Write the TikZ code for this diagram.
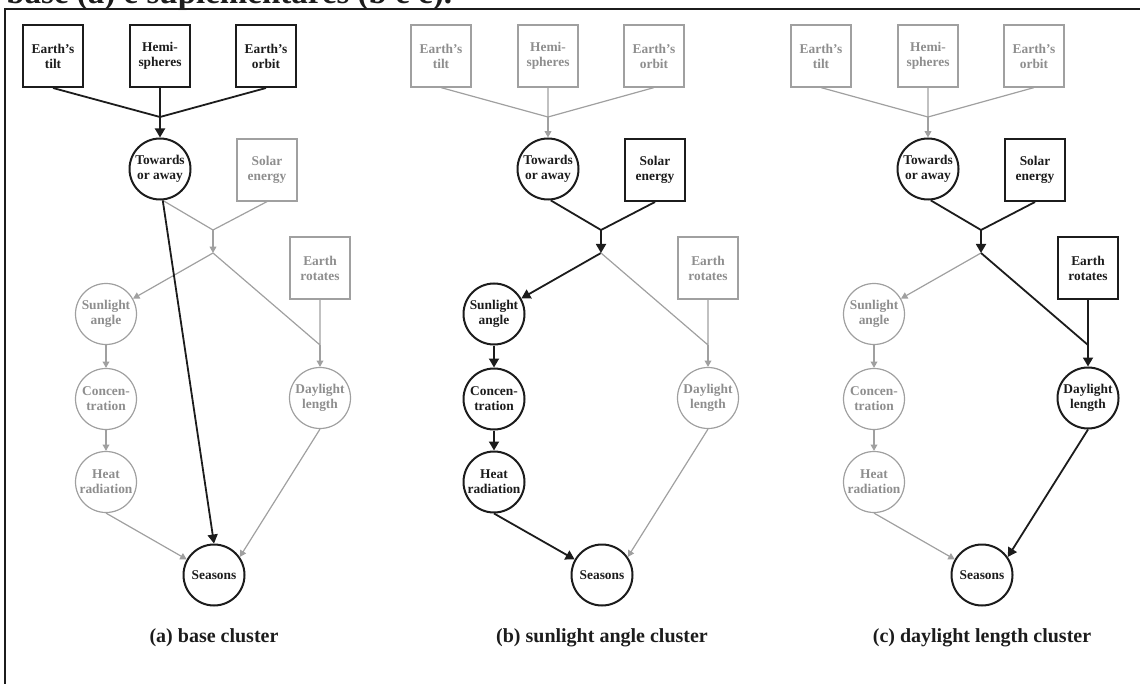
\documentclass[tikz,border=0pt]{standalone}
\usepackage{fontspec}
\setmainfont{Liberation Serif}
\usetikzlibrary{arrows.meta}

\definecolor{ink}{HTML}{1C1C1C}
\definecolor{faded}{HTML}{A0A0A0}
\definecolor{fadedtext}{HTML}{8E8E8E}

\tikzset{
  lbl/.style={align=center, inner sep=0pt,
    font=\bfseries\fontsize{6.7}{7.5}\selectfont},
  hl box/.style={lbl, rectangle, draw=ink, text=ink, line width=1pt,
    minimum width=30pt, minimum height=31pt},
  dim box/.style={lbl, rectangle, draw=faded, text=fadedtext, line width=0.6pt,
    minimum width=30pt, minimum height=31pt},
  hl circ/.style={lbl, circle, draw=ink, text=ink, line width=1pt,
    minimum size=30.5pt},
  dim circ/.style={lbl, circle, draw=faded, text=fadedtext, line width=0.6pt,
    minimum size=30.5pt},
  hl edge/.style={draw=ink, line width=0.9pt},
  dim edge/.style={draw=faded, line width=0.6pt},
  hl arrow/.style={hl edge, -{Triangle[length=4.5pt,width=5pt]}},
  dim arrow/.style={dim edge, -{Triangle[length=3.2pt,width=3.4pt]}},
  caption/.style={font=\bfseries\fontsize{10}{12}\selectfont, text=ink, inner sep=0pt},
}

% One cluster panel.
% #1 name prefix, #2 horizontal offset, #3 top causes, #4 solar energy branch,
% #5 sunlight-angle chain, #6 daylight-length chain, #7 caption
\newcommand\clusterpanel[7]{%
  \begin{scope}[shift={(#2,0)}]
    \node[#3 box] (#1tilt)  at (53,56)  {Earth’s\\tilt};
    \node[#3 box] (#1hemi)  at (160,56) {Hemi-\\spheres};
    \node[#3 box] (#1orbit) at (266,56) {Earth’s\\orbit};
    \coordinate (#1ja) at (160,117);
    \node[hl circ] (#1towards) at (160,169) {Towards\\or away};
    \node[#4 box]  (#1solar)   at (267,170) {Solar\\energy};
    \coordinate (#1jb) at (213,230);
    \coordinate (#1jc) at (213,253);
    \node[#5 circ] (#1sun)  at (106,314) {Sunlight\\angle};
    \node[#5 circ] (#1conc) at (106,399) {Concen-\\tration};
    \node[#5 circ] (#1heat) at (106,482) {Heat\\radiation};
    \node[#6 box]  (#1rot)  at (320,268) {Earth\\rotates};
    \coordinate (#1jd) at (320,345);
    \node[#6 circ] (#1day)  at (320,398) {Daylight\\length};
    \node[hl circ] (#1seasons) at (214,575) {Seasons};
    \node[caption] (#1cap) at (214,638) {#7};
    % connectors
    \draw[#3 edge] (#1tilt.south) -- (#1ja) (#1hemi.south) -- (#1ja)
                   (#1orbit.south) -- (#1ja);
    \draw[#3 arrow] (#1ja) -- (#1towards.north);
    \draw[#4 edge] (#1towards.-85) -- (#1jb) (#1solar.south) -- (#1jb);
    \draw[#4 arrow] (#1jb) -- (#1jc);
    \draw[#5 arrow] (#1jc) -- (#1sun);
    \draw[#5 arrow] (#1sun) -- (#1conc);
    \draw[#5 arrow] (#1conc) -- (#1heat);
    \draw[#5 arrow] (#1heat.south) -- (#1seasons);
    \draw[#6 edge] (#1jc) -- (#1jd) (#1rot.south) -- (#1jd);
    \draw[#6 arrow] (#1jd) -- (#1day.north);
    \draw[#6 arrow] (#1day.south) -- (#1seasons.35);
  \end{scope}}

\begin{document}
\begin{tikzpicture}[x=0.5pt, y=-0.5pt]
  \useasboundingbox (0,0) rectangle (1140,684);
  \clip (0,0) rectangle (1140,684);

  % heading line running above the frame
  \node[anchor=base west, inner sep=0pt, text=ink,
        font=\bfseries\fontsize{16.5}{18}\selectfont] (heading) at (6,4)
        {base (a) e suplementares (b e c).};

  % frame
  \draw[ink, line width=1.2pt] (5,720) -- (5,9) -- (1160,9);

  \clusterpanel{a}{0}{hl}{dim}{dim}{dim}{(a) base cluster}
  \clusterpanel{b}{388}{dim}{hl}{hl}{dim}{(b) sunlight angle cluster}
  \clusterpanel{c}{768}{dim}{hl}{dim}{hl}{(c) daylight length cluster}

  % direct link of the base cluster
  \draw[hl arrow] (atowards.-85) -- (aseasons.north);
\end{tikzpicture}
\end{document}
